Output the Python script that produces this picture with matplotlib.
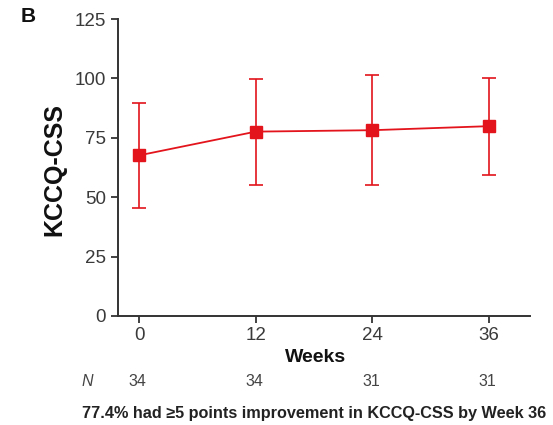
import matplotlib
matplotlib.use("Agg")
import matplotlib.pyplot as plt

weeks = [0, 12, 24, 36]
kccq_mean = [67.6, 77.6, 78.2, 79.9]
kccq_sd = [22.0, 22.3, 23.2, 20.4]
n_patients = [34, 34, 31, 31]
y_ticks = [0, 25, 50, 75, 100, 125]

plt.rcParams['font.family'] = ['Liberation Sans', 'DejaVu Sans']
red = '#e3141c'
ink = '#333333'

W, H = 553, 425
fig = plt.figure(figsize=(W / 100, H / 100), dpi=100)
ax = fig.add_axes([118 / W, 1 - 316 / H, (530 - 118) / W, (316 - 19) / H])

ax.errorbar(weeks, kccq_mean, yerr=kccq_sd, color=red, ecolor=red,
            marker='s', markersize=9, linewidth=1.3, elinewidth=1.2,
            capsize=5, capthick=1.2, clip_on=False, zorder=3)

ax.set_xlim(-2.16, 40.2)
ax.set_ylim(0, 125)
ax.set_xticks(weeks)
ax.set_yticks(y_ticks)
for s in ('top', 'right'):
    ax.spines[s].set_visible(False)
for s in ('left', 'bottom'):
    ax.spines[s].set_color(ink)
    ax.spines[s].set_linewidth(1.4)
ax.tick_params(axis='both', direction='out', length=5, width=1.3,
               colors=ink, labelsize=13.5, labelcolor='#3a3a3a')
ax.tick_params(axis='x', pad=3)

fig.text(316 / W, 1 - 357 / H, 'Weeks', fontsize=14, fontweight='bold',
         color='#111111', ha='center', va='center')
fig.text(54 / W, 1 - 169 / H, 'KCCQ-CSS', fontsize=18, fontweight='bold',
         color='#111111', ha='center', va='center', rotation=90)

fig.text(28.5 / W, 1 - 16 / H, 'B', fontsize=15, fontweight='bold', color='#111111',
         ha='center', va='center')

# Patient numbers under each visit
n_y = 1 - 382 / H
fig.text(87 / W, n_y, 'N', fontsize=11.5, fontstyle='italic', color='#444444',
         ha='center', va='center')
for w, n in zip(weeks, n_patients):
    x_fig = fig.transFigure.inverted().transform(ax.transData.transform((w, 0)))[0]
    fig.text(x_fig - 1.5 / W, n_y, str(n), fontsize=11.5, color='#444444',
             ha='center', va='center')

fig.text(82 / W, 1 - 418 / H,
         '77.4% had \u22655 points improvement in KCCQ-CSS by Week 36',
         fontsize=11.7, fontweight='bold', color='#222222', ha='left', va='baseline')

fig.savefig('out.png', dpi=100)
